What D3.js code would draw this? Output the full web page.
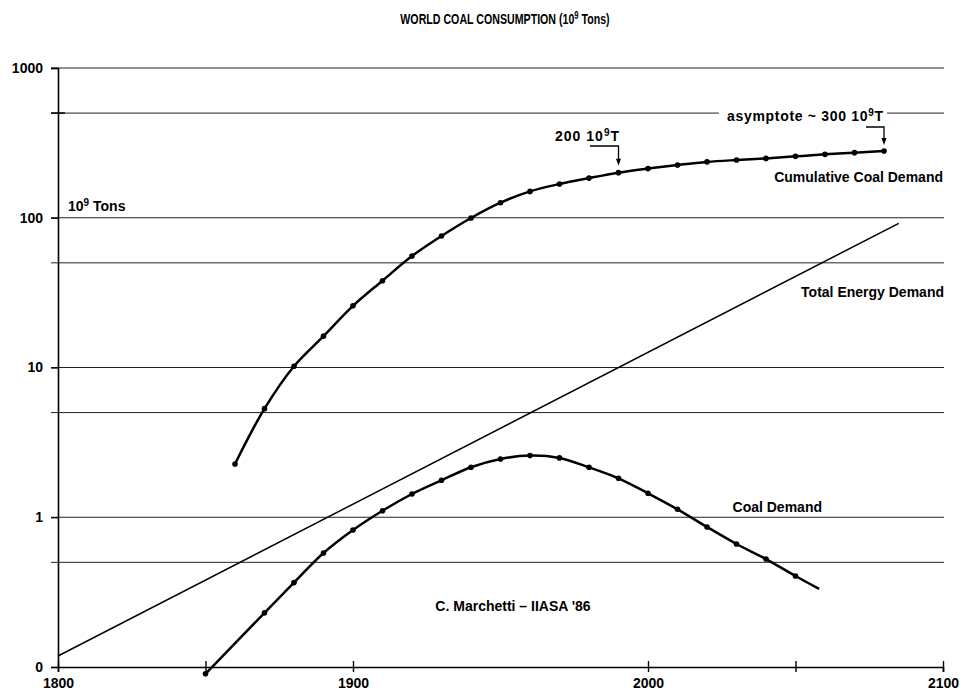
<!DOCTYPE html>
<html>
<head>
<meta charset="utf-8">
<script src="https://cdn.jsdelivr.net/npm/d3@7"></script>
<style>
  html, body { margin: 0; padding: 0; background: #fff; }
  svg { display: block; }
  text { font-family: "Liberation Sans", Arial, sans-serif; font-weight: bold; fill: #000; }
</style>
</head>
<body>
<svg id="chart" width="967" height="694"></svg>
<script>
// ---- data ----
const cumulativeYears  = [1860, 1870, 1880, 1890, 1900, 1910, 1920, 1930, 1940, 1950, 1960, 1970, 1980, 1990, 2000, 2010, 2020, 2030, 2040, 2050, 2060, 2070, 2080];
const cumulativeValues = [2.27, 5.31, 10.2, 16.2, 25.8, 38.0, 55.5, 75.5, 99.6, 126, 150, 168, 184, 200, 213, 225, 236, 243, 249, 257, 265, 272, 279];

const coalYears  = [1850, 1870, 1880, 1890, 1900, 1910, 1920, 1930, 1940, 1950, 1960, 1970, 1980, 1990, 2000, 2010, 2020, 2030, 2040, 2050, 2058];
const coalValues = [0.090, 0.230, 0.366, 0.577, 0.822, 1.106, 1.43, 1.765, 2.156, 2.45, 2.58, 2.49, 2.156, 1.82, 1.445, 1.13, 0.861, 0.663, 0.526, 0.405, 0.332];

const energyYears  = [1800, 2085];
const energyValues = [0.1185, 91.8];

const yTickValues = [0.1, 1, 10, 100, 1000];
const yTickLabels = ["0", "1", "10", "100", "1000"];
const gridValues  = [0.5, 1, 5, 10, 50, 100, 500, 1000];
const xTickValues = [1800, 1850, 1900, 2000, 2050, 2100];
const xTickLabels = ["1800", "", "1900", "2000", "", "2100"];

// ---- scales ----
const svg = d3.select("#chart");
const x = d3.scaleLinear().domain([1800, 2100]).range([58, 943]);
const y = d3.scaleLog().domain([0.1, 1000]).range([667, 68]);

// ---- title ----
const title = svg.append("text").attr("transform", "translate(505,24) scale(0.76,1)")
  .attr("text-anchor", "middle").style("font-size", "14px");
title.append("tspan").text("WORLD COAL CONSUMPTION (10");
title.append("tspan").attr("dy", -5).style("font-size", "10px").text("9");
title.append("tspan").attr("dy", 5).text(" Tons)");

// ---- gridlines ----
svg.append("g").selectAll("line").data(gridValues).join("line")
  .attr("x1", 51).attr("x2", 944)
  .attr("y1", d => y(d)).attr("y2", d => y(d))
  .attr("stroke", "#222").attr("stroke-width", 1);

// ---- y axis ----
const yAxis = d3.axisLeft(y).tickValues(yTickValues)
  .tickFormat((d, i) => yTickLabels[i]).tickSize(7).tickPadding(8);
const gy = svg.append("g").attr("transform", `translate(${x(1800)},0)`).call(yAxis);
gy.select(".domain").attr("stroke", "#000").attr("stroke-width", 1.6);
gy.selectAll(".tick line").attr("stroke", "#000").attr("stroke-width", 1.3);
gy.selectAll(".tick text").style("font-size", "14px")
  .style("font-family", "'Liberation Sans', Arial, sans-serif").style("font-weight", "bold");
// cross tick at 500
svg.append("line").attr("x1", x(1800) - 7).attr("x2", x(1800) + 7)
  .attr("y1", y(500)).attr("y2", y(500)).attr("stroke", "#000").attr("stroke-width", 1.5);

// ---- x axis ----
const xAxis = d3.axisBottom(x).tickValues(xTickValues)
  .tickFormat((d, i) => xTickLabels[i]).tickSize(5).tickPadding(6);
const gx = svg.append("g").attr("transform", `translate(0,${y(0.1)})`).call(xAxis);
gx.select(".domain").attr("stroke", "#000").attr("stroke-width", 1.6);
gx.selectAll(".tick line").attr("stroke", "#000").attr("stroke-width", 1.4).attr("y1", -6);
gx.selectAll(".tick text").style("font-size", "14px")
  .style("font-family", "'Liberation Sans', Arial, sans-serif").style("font-weight", "bold");

// ---- lines ----
const mk = (ys, vs) => ys.map((d, i) => ({ year: d, value: vs[i] }));
const cumulative = mk(cumulativeYears, cumulativeValues);
const coal = mk(coalYears, coalValues);
const energy = mk(energyYears, energyValues);

const lineGen = d3.line().x(d => x(d.year)).y(d => y(d.value)).curve(d3.curveCatmullRom.alpha(0.5));

svg.append("path").datum(energy)
  .attr("d", d3.line().x(d => x(d.year)).y(d => y(d.value)))
  .attr("fill", "none").attr("stroke", "#000").attr("stroke-width", 1.5);

[cumulative, coal].forEach(series => {
  svg.append("path").datum(series).attr("d", lineGen)
    .attr("fill", "none").attr("stroke", "#000").attr("stroke-width", 2.5);
  svg.append("g").selectAll("circle").data(series.filter(d => d.year % 10 === 0)).join("circle")
    .attr("cx", d => x(d.year)).attr("cy", d => y(d.value)).attr("r", 2.8).attr("fill", "#000");
});

// ---- annotations ----
function supText(xp, yp, parts, len) {
  const t = svg.append("text").attr("x", xp).attr("y", yp).style("font-size", "14px");
  if (len) t.attr("textLength", len).attr("lengthAdjust", "spacing");
  parts.forEach(p => {
    if (p.sup) {
      t.append("tspan").attr("dy", -5).style("font-size", "10px").text(p.t);
    } else if (p.after) {
      t.append("tspan").attr("dy", 5).text(p.t);
    } else {
      t.append("tspan").text(p.t);
    }
  });
  return t;
}

// 10^9 Tons
supText(68, 211, [{ t: "10" }, { t: "9", sup: true }, { t: " Tons", after: true }]);

// asymptote label (breaks the 500 gridline)
svg.append("rect").attr("x", 719).attr("y", 105).attr("width", 168).attr("height", 18).attr("fill", "#fff");
supText(727, 121, [{ t: "asymptote ~ 300 10" }, { t: "9", sup: true }, { t: "T", after: true }], 156);

// 200 10^9 T label
supText(555, 141, [{ t: "200 10" }, { t: "9", sup: true }, { t: "T", after: true }], 64);

function bracketArrow(xTip, yTop, xLeft, yTip) {
  svg.append("path")
    .attr("d", `M${xLeft},${yTop} H${xTip} V${yTip - 5}`)
    .attr("fill", "none").attr("stroke", "#000").attr("stroke-width", 1.3);
  svg.append("path")
    .attr("d", `M${xTip - 2.5},${yTip - 7} L${xTip + 2.5},${yTip - 7} L${xTip},${yTip} Z`)
    .attr("fill", "#000");
}
bracketArrow(x(1990), 146, 590, y(200) - 7);
bracketArrow(x(2080), 127, 866, y(279) - 6);

svg.append("text").attr("x", 943).attr("y", 182).attr("text-anchor", "end")
  .style("font-size", "14px").text("Cumulative Coal Demand");
svg.append("text").attr("x", 944).attr("y", 297).attr("text-anchor", "end")
  .style("font-size", "14px").text("Total Energy Demand");
svg.append("text").attr("x", 822).attr("y", 512).attr("text-anchor", "end")
  .style("font-size", "14px").text("Coal Demand");
svg.append("text").attr("x", 513).attr("y", 611).attr("text-anchor", "middle")
  .style("font-size", "14px").text("C. Marchetti – IIASA '86");
</script>
</body>
</html>
